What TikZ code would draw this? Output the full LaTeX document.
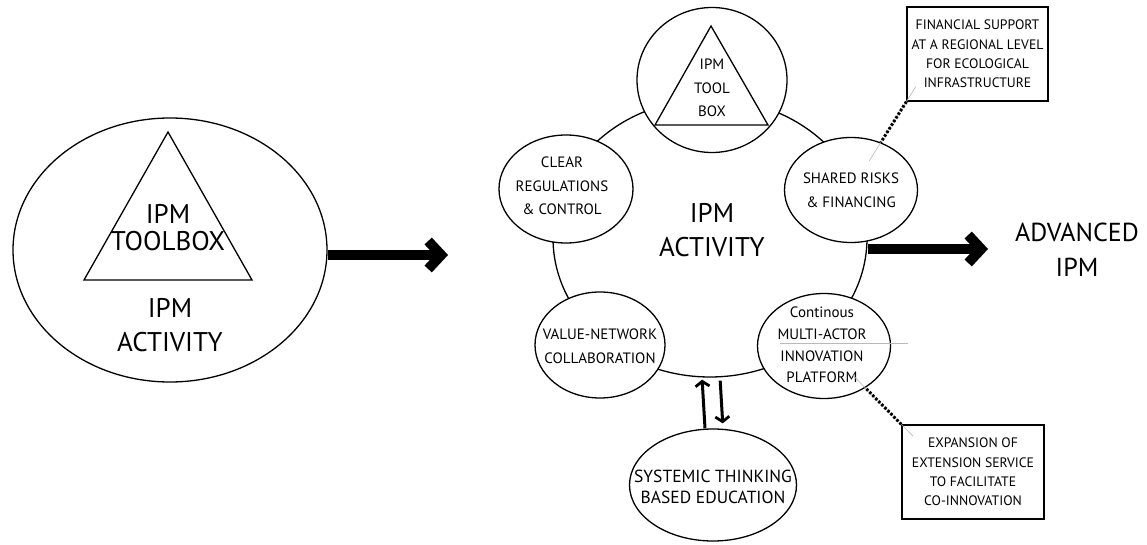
\documentclass[tikz,border=0pt]{standalone}
\usepackage{fontspec}
\setmainfont{PT Sans}
\usetikzlibrary{shapes.geometric, arrows.meta, calc}
\begin{document}
\begin{tikzpicture}[x=1pt, y=-1pt,
  oval/.style={ellipse, draw, line width=1.3pt, fill=white, inner sep=0pt},
  lbl/.style={align=center, inner sep=0pt, font=\fontsize{15}{23.5}\selectfont},
  bigtxt/.style={align=center, inner sep=0pt},
  boxnode/.style={draw, line width=1.3pt, fill=white, align=center, inner sep=0pt, font=\fontsize{13.7}{19.4}\selectfont},
  bigarrow/.style={line width=10pt, -{Straight Barb[length=13pt,width=28pt]}},
  dblarrow/.style={line width=3pt, -{Straight Barb[length=5pt,width=14pt,line width=2.8pt]}},
  dotlink/.style={line width=3pt, dash pattern=on 2.5pt off 1.8pt},
  faint/.style={gray!55, line width=0.6pt}
]
\useasboundingbox (0,0) rectangle (1147,545);

% ---- left part
\node[oval, minimum width=314pt, minimum height=264pt] (act1) at (170,250) {};
\draw[line width=1.3pt] (168,132) -- (252,280) -- (84,280) -- cycle;
\node[bigtxt, font=\fontsize{27}{27}\selectfont] (tb1) at (168,228) {IPM\\TOOLBOX};
\node[bigtxt, font=\fontsize{27}{34}\selectfont] (ia1) at (170,325) {IPM\\ACTIVITY};
\coordinate (tip1) at (448,255);
\draw[bigarrow] (act1.east |- tip1) -- (tip1);

% ---- middle ring
\node[ellipse, draw, line width=1.3pt, minimum width=314pt, minimum height=278pt, inner sep=0pt] (ring) at (710,238) {};
\node[bigtxt, font=\fontsize{27}{34}\selectfont] (ia2) at (712,230) {IPM\\ACTIVITY};

\node[oval, minimum width=150pt, minimum height=145pt] (tbx) at (712,80) {};
\draw[line width=1.3pt] (711,26) -- (768,125) -- (655,125) -- cycle;
\node[lbl] (tbxt) at (712,88) {IPM\\TOOL\\BOX};

\node[oval, minimum width=134pt, minimum height=108pt] (clear) at (566,189) {};
\node[lbl] (cleart) at (562,186) {CLEAR\\REGULATIONS\\\& CONTROL};

\node[oval, minimum width=130pt, minimum height=106pt] (value) at (600,345) {};
\node[lbl, font=\fontsize{15}{24}\selectfont] (valuet) at (600,346) {VALUE-NETWORK\\COLLABORATION};

\node[oval, minimum width=133pt, minimum height=105pt] (shared) at (851,190) {};
\node[lbl, font=\fontsize{15}{24}\selectfont] (sharedt) at (851,190) {SHARED RISKS\\\& FINANCING};

\node[oval, minimum width=133pt, minimum height=105pt] (multi) at (824,346) {};
\node[lbl, font=\fontsize{15}{21.7}\selectfont] (multit) at (822,345) {Continous\\MULTI-ACTOR\\INNOVATION\\PLATFORM};
\draw[faint] (780,343) -- (908,343);

\node[oval, minimum width=167pt, minimum height=112pt] (sys) at (713,485) {};
\node[lbl, font=\fontsize{17.5}{21}\selectfont] (syst) at (713,487) {SYSTEMIC THINKING\\BASED EDUCATION};

\draw[dblarrow, shorten >=2pt] ([xshift=-8pt]sys.north) -- ([xshift=-8pt]ring.south);
\draw[dblarrow, shorten <=3pt, shorten >=5pt] ([xshift=10pt]ring.south) -- ([xshift=10pt]sys.north);

% ---- boxes
\node[boxnode, minimum width=141pt, minimum height=94pt] (fin) at (977.5,54) {FINANCIAL SUPPORT\\AT A REGIONAL LEVEL\\FOR ECOLOGICAL\\INFRASTRUCTURE};
\node[boxnode, minimum width=142pt, minimum height=94pt] (ext) at (973,472) {EXPANSION OF\\EXTENSION SERVICE\\TO FACILITATE\\CO-INNOVATION};

\draw[faint] ($(fin.south west)!-0.17!(shared.center)$) -- ($(fin.south west)!0.67!(shared.center)$);
\draw[dotlink] (fin.south west) -- (shared);
\draw[faint] ($(ext.north west)!-0.15!(multi.center)$) -- ($(ext.north west)!0.63!(multi.center)$);
\draw[dotlink] (ext.north west) -- (multi);

% ---- right
\node[bigtxt, font=\fontsize{26}{35}\selectfont] (adv) at (1077,250) {ADVANCED\\IPM};
\coordinate (tip2) at (988,249);
\draw[bigarrow] (ring.east |- tip2) -- (tip2);
\end{tikzpicture}
\end{document}
